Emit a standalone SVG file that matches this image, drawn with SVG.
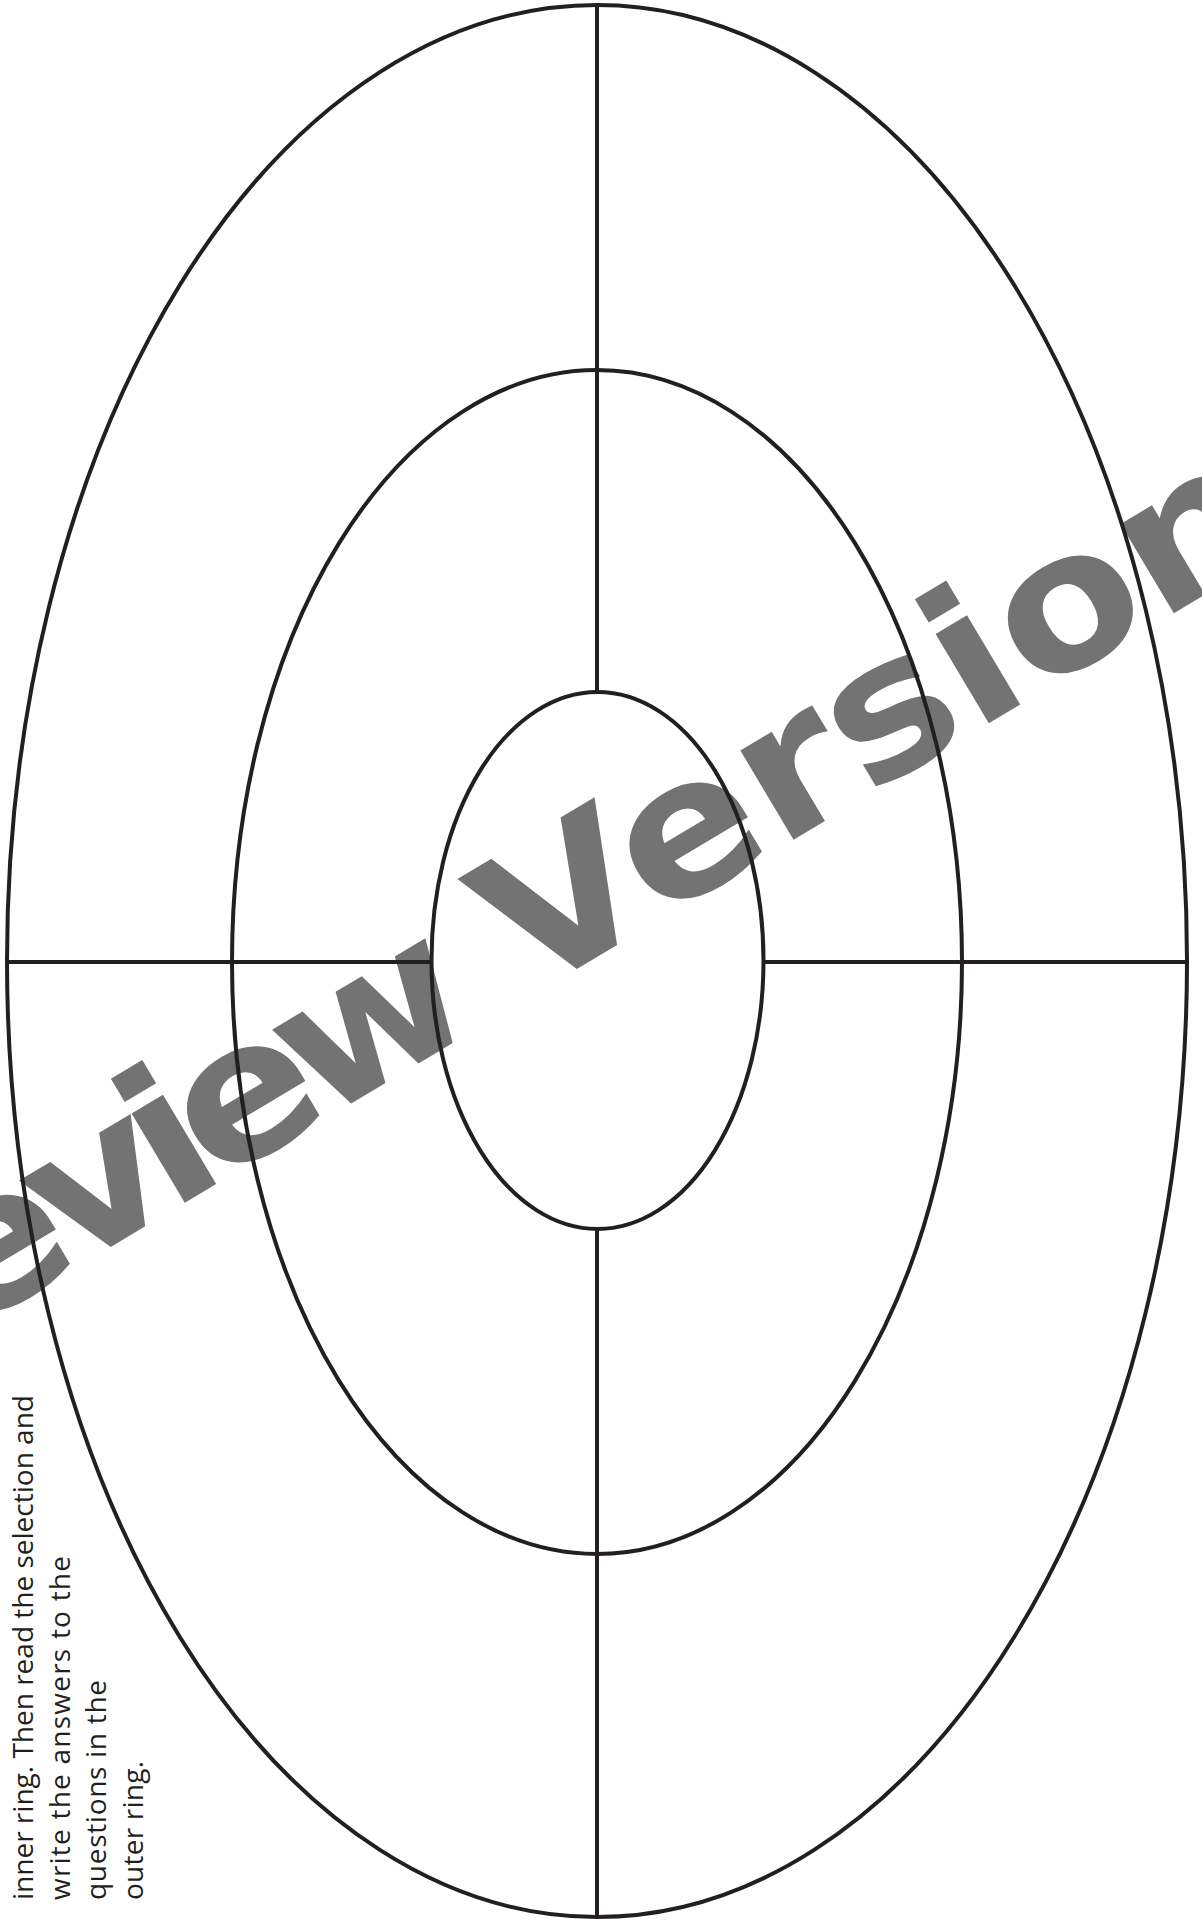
<svg xmlns="http://www.w3.org/2000/svg" width="1202" height="1921" viewBox="0 0 1202 1921">
<style>
.ring{fill:none;stroke:#231f20;stroke-width:4}
.div{stroke:#231f20;stroke-width:4;fill:none}
.wm{font-family:"DejaVu Sans","Liberation Sans",sans-serif;font-weight:bold;font-size:190px;fill:#737373}
.instr{font-family:"Open Sans","Noto Sans",sans-serif;font-size:28px;fill:#231f20}
</style>
<rect width="1202" height="1921" fill="#ffffff"/>
<g id="watermark" transform="translate(597,957) rotate(-30.8) scale(1.1,1)">
<text class="wm" y="0"><tspan x="-866" dx="0 -18 -18 -18 -18 -18 -18 -18">Preview </tspan><tspan x="-73.5">Version</tspan></text>
</g>
<g id="outer-ring"><ellipse class="ring" cx="597" cy="961" rx="590" ry="956"/></g>
<g id="middle-ring"><ellipse class="ring" cx="597" cy="962" rx="365" ry="592"/></g>
<g id="inner-ring"><ellipse class="ring" cx="597.5" cy="960.5" rx="166" ry="268.5"/></g>
<g id="connectors">
<line class="div" x1="7" y1="962" x2="431.5" y2="962"/>
<line class="div" x1="763.5" y1="962" x2="1187" y2="962"/>
<line class="div" x1="597" y1="5" x2="597" y2="692"/>
<line class="div" x1="597" y1="1229" x2="597" y2="1917"/>
</g>
<g id="instructions">
<text class="instr" transform="translate(33,1900) rotate(-90)">
<tspan x="0" y="0" textLength="505" lengthAdjust="spacing">inner ring. Then read the selection and</tspan>
<tspan x="0" y="36.5" textLength="344" lengthAdjust="spacing">write the answers to the</tspan>
<tspan x="0" y="73" textLength="220" lengthAdjust="spacing">questions in the</tspan>
<tspan x="0" y="109.5" textLength="139" lengthAdjust="spacing">outer ring.</tspan>
</text>
</g>
</svg>
